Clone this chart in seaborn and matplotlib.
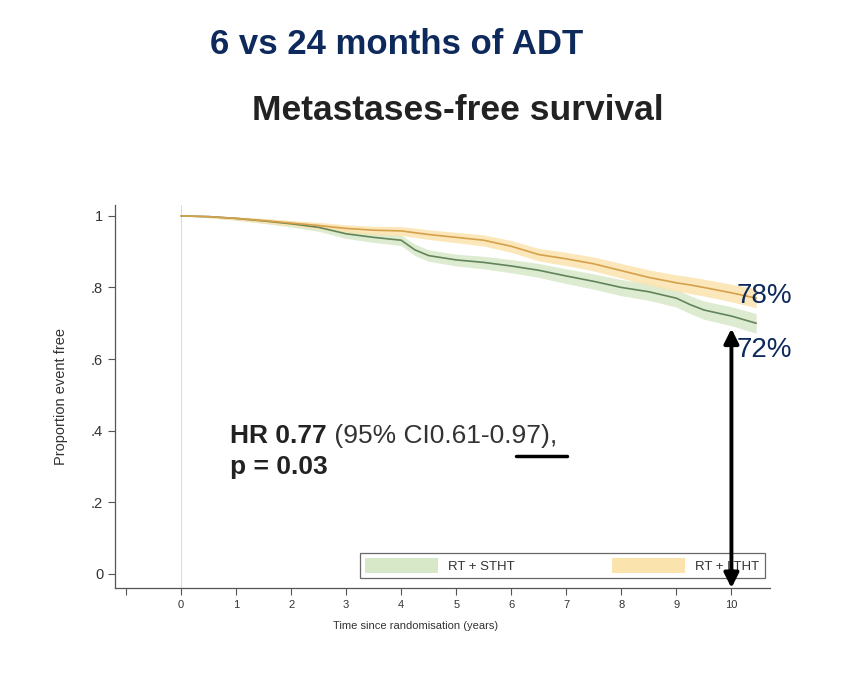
import numpy as np
import pandas as pd
import seaborn as sns
import matplotlib.pyplot as plt
from matplotlib.patches import Patch

# Kaplan-Meier estimates (years since randomisation)
time = [0, 0.5, 1, 1.5, 2, 2.5, 3, 3.5, 4, 4.25, 4.5, 5, 5.5, 6, 6.5, 7, 7.5, 8, 8.5, 9, 9.25, 9.5, 10, 10.45]

stht_surv = [1.000, 0.998, 0.993, 0.986, 0.978, 0.968, 0.950, 0.940, 0.932, 0.905, 0.889, 0.877, 0.870,
             0.860, 0.848, 0.832, 0.817, 0.800, 0.788, 0.770, 0.752, 0.737, 0.720, 0.700]
stht_lo = [1.000, 0.995, 0.988, 0.979, 0.969, 0.957, 0.937, 0.926, 0.917, 0.889, 0.873, 0.860, 0.852,
           0.841, 0.828, 0.811, 0.795, 0.777, 0.764, 0.745, 0.727, 0.711, 0.693, 0.672]
stht_hi = [1.000, 1.000, 0.997, 0.992, 0.986, 0.978, 0.962, 0.953, 0.946, 0.921, 0.905, 0.893, 0.887,
           0.878, 0.867, 0.852, 0.838, 0.822, 0.811, 0.794, 0.777, 0.762, 0.746, 0.727]

ltht_surv = [1.000, 0.998, 0.993, 0.987, 0.980, 0.973, 0.965, 0.960, 0.958, 0.953, 0.948, 0.940, 0.932,
             0.915, 0.892, 0.880, 0.866, 0.847, 0.828, 0.813, 0.807, 0.800, 0.785, 0.770]
ltht_lo = [1.000, 0.995, 0.988, 0.980, 0.972, 0.963, 0.954, 0.948, 0.945, 0.940, 0.934, 0.925, 0.916,
           0.898, 0.874, 0.861, 0.846, 0.826, 0.806, 0.790, 0.783, 0.776, 0.760, 0.743]
ltht_hi = [1.000, 1.000, 0.997, 0.993, 0.987, 0.982, 0.975, 0.971, 0.970, 0.966, 0.961, 0.954, 0.947,
           0.931, 0.909, 0.898, 0.885, 0.867, 0.849, 0.835, 0.830, 0.823, 0.809, 0.796]

arms = ['RT + STHT', 'RT + LTHT']
line_colors = ['#62845a', '#d6a14c']
band_colors = ['#d7e8c8', '#fbe3ad']

df = pd.concat([
    pd.DataFrame({'time': time, 'surv': stht_surv, 'lo': stht_lo, 'hi': stht_hi, 'arm': arms[0]}),
    pd.DataFrame({'time': time, 'surv': ltht_surv, 'lo': ltht_lo, 'hi': ltht_hi, 'arm': arms[1]}),
])

sns.set_style('ticks')
plt.rcParams['font.family'] = ['Liberation Sans', 'DejaVu Sans']

fig = plt.figure(figsize=(8.6, 6.74), dpi=100)
ax = fig.add_axes([0.1337, 0.1276, 0.7616, 0.568])

# confidence bands first, then the curves
for arm, bc in zip(arms, band_colors):
    sub = df[df['arm'] == arm]
    ax.fill_between(sub['time'], sub['lo'], sub['hi'], color=bc, alpha=0.85, lw=0)

sns.lineplot(data=df, x='time', y='surv', hue='arm', palette=line_colors, hue_order=arms,
             lw=1.2, legend=False, ax=ax, estimator=None)

ax.axvline(0, color='#dcdcdc', lw=0.8, zorder=0)

ax.set_xlim(-1.2, 10.7)
ax.set_ylim(-0.04, 1.03)
ax.set_xticks(range(-1, 11))
ax.set_xticklabels([''] + [str(i) for i in range(0, 11)])
ax.set_yticks([0, 0.2, 0.4, 0.6, 0.8, 1.0])
ax.set_yticklabels(['0', '.2', '.4', '.6', '.8', '1'])
ax.tick_params(axis='both', labelsize=8, colors='#555555', labelcolor='#333333', length=5, width=0.8)
ax.tick_params(axis='y', labelsize=10.5)
for side in ['top', 'right']:
    ax.spines[side].set_visible(False)
for side in ['left', 'bottom']:
    ax.spines[side].set_color('#555555')
    ax.spines[side].set_linewidth(0.9)

ax.set_xlabel('Time since randomisation (years)', fontsize=8, color='#333333')
ax.xaxis.set_label_coords(0.459, -0.085)
ax.set_ylabel('Proportion event free', fontsize=10.5, color='#333333')
ax.yaxis.set_label_coords(-0.072, 0.5)

# legend box along the bottom
handles = [Patch(facecolor=bc, edgecolor='none') for bc in band_colors]
leg = ax.legend(handles, arms, ncol=2, loc='lower left', mode='expand',
                bbox_to_anchor=(0.374, 0.026, 0.618, 0.099), fontsize=9.5,
                handlelength=5.5, handleheight=1.3, frameon=True, fancybox=False,
                borderaxespad=0, columnspacing=4, handletextpad=0.8)
leg.get_frame().set_edgecolor('#444444')
leg.get_frame().set_linewidth(0.9)
leg.set_zorder(3)
for t in leg.get_texts():
    t.set_color('#333333')

# double-headed arrow at 10 years
ax.annotate('', xy=(10, 0.685), xytext=(10, -0.04),
            arrowprops=dict(arrowstyle='<|-|>', lw=2.8, color='black', mutation_scale=22,
                            shrinkA=0, shrinkB=0),
            annotation_clip=False, zorder=6)

navy = '#0e2a5c'
ax.text(10.1, 0.777, '78%', fontsize=20, color=navy, va='center', ha='left')
ax.text(10.1, 0.626, '72%', fontsize=20, color=navy, va='center', ha='left')

hr = ax.text(0.89, 0.385, 'HR 0.77', fontsize=19, fontweight='bold', color='#222222', va='center')
ax.annotate(' (95% CI0.61-0.97),', xy=(1, 0.5), xycoords=hr, va='center', ha='left',
            fontsize=19, color='#333333')
ax.text(0.89, 0.299, 'p = 0.03', fontsize=19, fontweight='bold', color='#222222', va='center')
ax.plot([6.09, 7.02], [0.328, 0.328], color='black', lw=2.5)

fig.text(210 / 860, 1 - 45 / 674, '6 vs 24 months of ADT', fontsize=25, fontweight='bold',
         color=navy, va='center', ha='left')
fig.text(252 / 860, 1 - 111 / 674, 'Metastases-free survival', fontsize=25.5, fontweight='bold',
         color='#222222', va='center', ha='left')

fig.savefig('out.png', dpi=100)
